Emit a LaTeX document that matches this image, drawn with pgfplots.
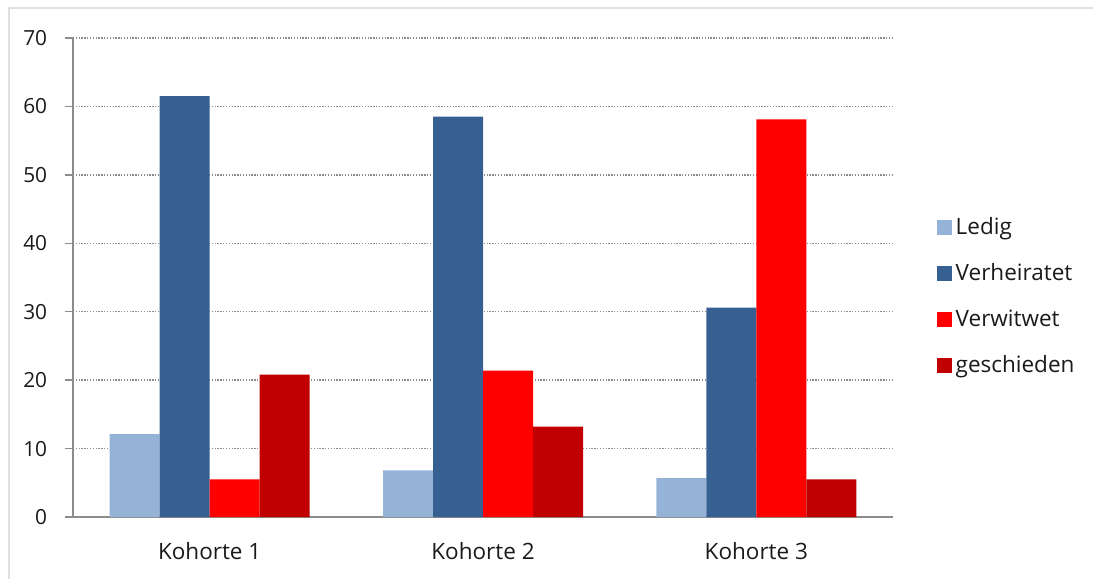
\documentclass[border=0pt]{standalone}
\usepackage{fontspec}
\setmainfont{Open Sans}
\usepackage{pgfplots}
\pgfplotsset{compat=1.18}
\definecolor{cLedig}{HTML}{95B3D7}
\definecolor{cVerh}{HTML}{376092}
\definecolor{cVerw}{HTML}{FF0000}
\definecolor{cGesch}{HTML}{C00000}
\definecolor{axisgray}{HTML}{8C8C8C}
\definecolor{txt}{HTML}{1A1A1A}
\begin{document}
\begin{tikzpicture}
\useasboundingbox (0,0) rectangle (655.8pt,-347.4pt);
\draw[gray!25, line width=0.8pt] (5.4pt,-4.8pt) rectangle (670pt,-360pt);
\begin{axis}[
    at={(43.8pt,-310.2pt)}, anchor=south west,
    scale only axis, width=492pt, height=287.4pt,
    ybar=0pt, bar width=30pt,
    xmin=-0.5, xmax=2.5, ymin=0, ymax=70,
    xtick={0,1,2}, xticklabels={Kohorte 1, Kohorte 2, Kohorte 3},
    extra x ticks={-0.5,0.5,1.5,2.5}, extra x tick labels={},
    extra x tick style={major tick length=5pt, tick align=outside, grid=none,
        tick style={axisgray, line width=0.8pt}},
    ytick={0,10,...,70},
    axis lines*=left,
    axis line style={axisgray, line width=0.8pt, -},
    tick style={axisgray, line width=0.8pt},
    xtick style={draw=none},
    major tick length=5pt, tick align=outside,
    ymajorgrids, grid style={axisgray, line width=0.8pt, dash pattern=on 0.8pt off 0.9pt},
    tick label style={font=\fontsize{12.5}{14}\selectfont, text=txt},
    xticklabel style={yshift=-7pt, font=\fontsize{13.5}{15}\selectfont},
    yticklabel style={xshift=-7pt},
    /pgf/number format/assume math mode=true,
    legend cell align=left,
    legend style={at={(1.0476,0.461)}, anchor=west, draw=none, fill=none,
        font=\fontsize{13.5}{15}\selectfont, text=txt, row sep=12pt,
        /tikz/every even column/.append style={column sep=4pt}},
    legend image code/.code={\fill[#1] (0pt,-4.5pt) rectangle (9pt,4.5pt);},
]
\addplot[fill=cLedig, draw=none] coordinates {(0,12.1) (1,6.8) (2,5.7)};
\addlegendentry{Ledig}
\addplot[fill=cVerh, draw=none] coordinates {(0,61.5) (1,58.5) (2,30.6)};
\addlegendentry{Verheiratet}
\addplot[fill=cVerw, draw=none] coordinates {(0,5.5) (1,21.4) (2,58.1)};
\addlegendentry{Verwitwet}
\addplot[fill=cGesch, draw=none] coordinates {(0,20.8) (1,13.2) (2,5.5)};
\addlegendentry{geschieden}
\end{axis}
\end{tikzpicture}
\end{document}
